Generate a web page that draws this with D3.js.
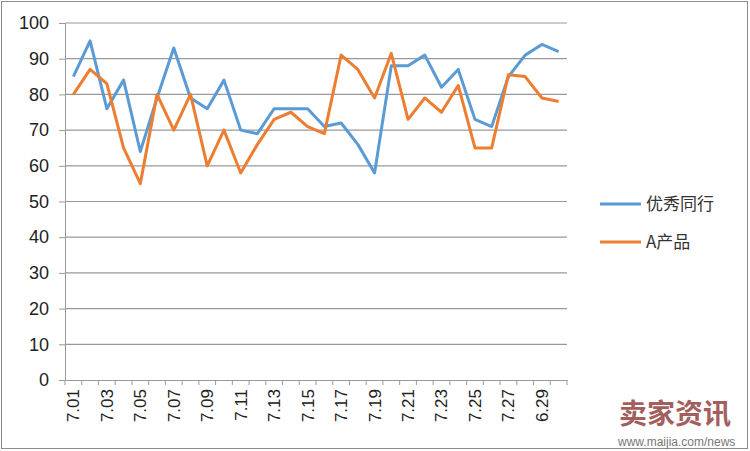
<!DOCTYPE html>
<html><head><meta charset="utf-8">
<script src="https://cdn.jsdelivr.net/npm/d3@7"></script>
<style>body{margin:0;background:#fff}svg{display:block}</style>
</head><body>
<svg id="c" width="750" height="451"></svg>
<script>
const categories = ["7.01","7.02","7.03","7.04","7.05","7.06","7.07","7.08","7.09","7.10","7.11","7.12","7.13","7.14","7.15","7.16","7.17","7.18","7.19","7.20","7.21","7.22","7.23","7.24","7.25","7.26","7.27","7.28","6.29","6.30"];
const seriesNames = ["优秀同行","A产品"];
const peerValues = [85,95,76,84,64,79,93,79,76,84,70,69,76,76,76,71,72,66,58,88,88,91,82,87,73,71,85,91,94,92];
const productValues = [80,87,83,65,55,80,70,80,60,70,58,66,73,75,71,69,91,87,79,91.5,73,79,75,82.5,65,65,85.5,85,79,78];
const yTicks = [0,10,20,30,40,50,60,70,80,90,100];
const colors = ["#5B9BD5","#ED7D31"];

const svg = d3.select("#c");
const L=65, R=567, T=23, B=380;
const x = d3.scaleBand().domain(categories).range([L,R]);
const y = d3.scaleLinear().domain([0,100]).range([B,T]);

svg.append("rect").attr("x",1.5).attr("y",1.5).attr("width",746).attr("height",447)
  .attr("fill","#fff").attr("stroke","#8c8c8c").attr("stroke-width",1);

svg.append("g").selectAll("line").data(yTicks.filter(d=>d>0)).join("line")
  .attr("x1",L).attr("x2",R).attr("y1",d=>y(d)).attr("y2",d=>y(d))
  .attr("stroke","#999").attr("stroke-width",1.2);

const ya = svg.append("g").attr("transform",`translate(${L},0)`)
  .call(d3.axisLeft(y).tickValues(yTicks).tickSize(6).tickPadding(10));
ya.select(".domain").attr("stroke","#999");
ya.selectAll(".tick line").attr("stroke","#999");
ya.selectAll("text").attr("font-family","Liberation Sans, Arial, sans-serif").attr("font-size",18).attr("fill","#222");

const xa = svg.append("g").attr("transform",`translate(0,${B})`)
  .call(d3.axisBottom(x).tickSize(0).tickValues(categories.filter((d,i)=>i%2===0)));
xa.select(".domain").attr("stroke","#999");
xa.selectAll("text").attr("font-family","Liberation Sans, Arial, sans-serif").attr("font-size",17).attr("fill","#222")
  .attr("transform","rotate(-90)").attr("text-anchor","end").attr("dy","0.35em").attr("x",-9).attr("y",0);
const bounds = categories.map(c=>x(c)).concat([R]);
svg.append("g").selectAll("line").data(bounds).join("line")
  .attr("x1",d=>d).attr("x2",d=>d).attr("y1",B).attr("y2",B+5).attr("stroke","#999");

const line = d3.line().x((d,i)=>x(categories[i])+x.bandwidth()/2).y(d=>y(d));
[peerValues, productValues].forEach((vals,k)=>{
  svg.append("path").datum(vals).attr("d",line).attr("fill","none")
    .attr("stroke",colors[k]).attr("stroke-width",3).attr("stroke-linejoin","round");
});

const lg = svg.append("g");
seriesNames.forEach((n,k)=>{
  const yy = 204 + k*38;
  lg.append("line").attr("x1",600).attr("x2",641).attr("y1",yy).attr("y2",yy).attr("stroke",colors[k]).attr("stroke-width",3);
  lg.append("text").attr("x",646).attr("y",yy).attr("dy","0.35em").text(n)
    .attr("font-family","Noto Sans CJK SC, sans-serif").attr("font-size",17).attr("fill","#333");
});

svg.append("text").attr("x",619).attr("y",424).text("卖家资讯")
  .attr("font-family","Noto Sans CJK SC, sans-serif").attr("font-weight","bold").attr("font-size",28).attr("fill","#9a4d4d").attr("opacity",0.9);
svg.append("text").attr("x",618).attr("y",446).text("www.maijia.com/news")
  .attr("font-family","Liberation Sans, Arial, sans-serif").attr("font-size",12).attr("fill","#777");
</script>
</body></html>
